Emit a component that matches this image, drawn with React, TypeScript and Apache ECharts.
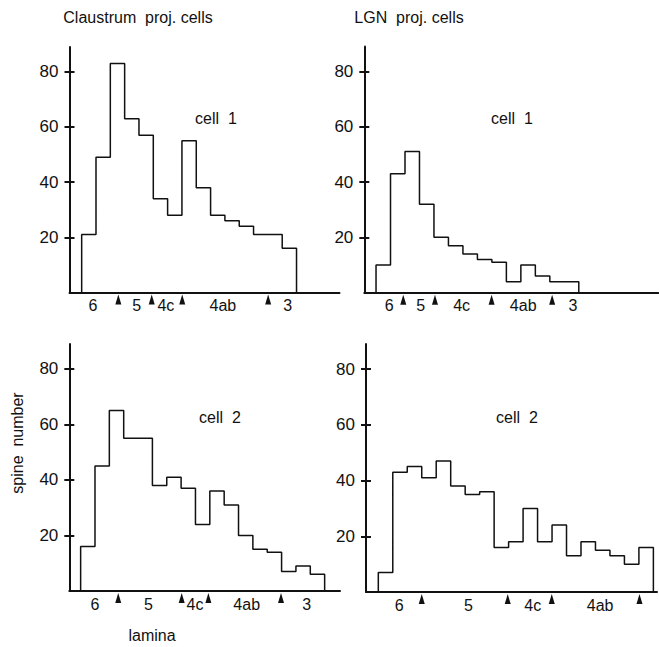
import React, { useEffect, useRef } from "react";
import * as echarts from "echarts";

// ---- data ----
const panelTitles = ["Claustrum  proj. cells", "LGN  proj. cells"];
const cellLabels = ["cell  1", "cell  1", "cell  2", "cell  2"];
const yAxisName = "spine  number";
const xAxisName = "lamina";
const yTicks = [20, 40, 60, 80];
const yMax = 89;

// spine counts per depth bin (bin width = 1 x-unit)
const claustrumCell1 = [21, 49, 83, 63, 57, 34, 28, 55, 38, 28, 26, 24, 21, 21, 16];
const lgnCell1 = [10, 43, 51, 32, 20, 17, 14, 12, 11, 4, 10, 6, 4, 4];
const claustrumCell2 = [16, 45, 65, 55, 55, 38, 41, 37, 24, 36, 31, 20, 15, 14, 7, 9, 6];
const lgnCell2 = [7, 43, 45, 41, 47, 38, 35, 36, 16, 18, 30, 18, 24, 13, 18, 15, 13, 10, 16];

// first bin's left edge and axis extent, in bin units
const binStarts = [0.85, 0.81, 0.79, 0.85];
const xMaxes = [18.85, 20.3, 18.86, 20.1];

// lamina names and their label positions
const laminaNames1 = ["6", "5", "4c", "4ab", "3"];
const laminaNames2 = ["6", "5", "4c", "4ab", "3"];
const laminaNames3 = ["6", "5", "4c", "4ab", "3"];
const laminaNames4 = ["6", "5", "4c", "4ab"];
const laminaPos1 = [1.64, 4.69, 6.73, 10.71, 15.23];
const laminaPos2 = [1.72, 3.89, 6.72, 10.97, 14.41];
const laminaPos3 = [1.79, 5.51, 8.76, 12.36, 16.54];
const laminaPos4 = [2.3, 7.07, 11.52, 16.17];

// lamina boundary arrows
const arrows1 = [3.41, 5.74, 7.87, 13.87];
const arrows2 = [2.69, 4.88, 8.79, 12.97];
const arrows3 = [3.41, 7.83, 9.69, 14.75];
const arrows4 = [3.85, 9.79, 12.83, 18.89];

const panelValues = [claustrumCell1, lgnCell1, claustrumCell2, lgnCell2];
const panelNames = [laminaNames1, laminaNames2, laminaNames3, laminaNames4];
const panelLabelPos = [laminaPos1, laminaPos2, laminaPos3, laminaPos4];
const panelArrows = [arrows1, arrows2, arrows3, arrows4];

// ---- layout ----
const grids = [
  { left: 69.5, top: 47, width: 270, height: 245.5 },
  { left: 364.3, top: 46.5, width: 294, height: 246.2 },
  { left: 69.3, top: 344, width: 270.7, height: 247 },
  { left: 366, top: 344, width: 291, height: 248 },
];

const INK = "#111111";
const FONT = "'Liberation Sans', Arial, Helvetica, sans-serif";

function stepPoints(start: number, vals: number[]): number[][] {
  const pts: number[][] = [[start, 0]];
  vals.forEach((v, i) => {
    pts.push([start + i, v]);
    pts.push([start + i + 1, v]);
  });
  pts.push([start + vals.length, 0]);
  return pts;
}

export default function App() {
  const ref = useRef<HTMLDivElement>(null);
  useEffect(() => {
    if (!ref.current) return;
    const chart = echarts.init(ref.current, undefined, { renderer: "svg" });

    const xAxis: any[] = [];
    const yAxis: any[] = [];
    const series: any[] = [];

    grids.forEach((g, i) => {
      xAxis.push({
        type: "value",
        gridIndex: i,
        min: 0,
        max: xMaxes[i],
        axisLine: { show: true, lineStyle: { color: INK, width: 2 } },
        axisTick: { show: false },
        axisLabel: { show: false },
        splitLine: { show: false },
      });
      yAxis.push({
        type: "value",
        gridIndex: i,
        position: "left",
        min: 0,
        max: yMax,
        axisLine: { show: true, onZero: false, lineStyle: { color: INK, width: 2 } },
        axisTick: {
          show: true,
          inside: false,
          length: 5,
          customValues: yTicks,
          lineStyle: { color: INK, width: 2 },
        },
        axisLabel: {
          show: true,
          customValues: yTicks,
          margin: 11,
          fontSize: 17,
          fontFamily: FONT,
          color: INK,
        },
        splitLine: { show: false },
      });
      yAxis.push({
        type: "value",
        gridIndex: i,
        position: "left",
        offset: 0,
        min: 0,
        max: yMax,
        axisLine: { show: false },
        axisTick: {
          show: true,
          inside: true,
          length: 5,
          customValues: yTicks,
          lineStyle: { color: INK, width: 2 },
        },
        axisLabel: { show: false },
        splitLine: { show: false },
      });

      series.push({
        type: "line",
        xAxisIndex: i,
        yAxisIndex: 2 * i,
        data: stepPoints(binStarts[i], panelValues[i]),
        symbol: "none",
        lineStyle: { color: INK, width: 1.5 },
        clip: false,
      });
      series.push({
        type: "scatter",
        xAxisIndex: i,
        yAxisIndex: 2 * i,
        data: panelArrows[i].map((x) => [x, 0]),
        symbol: "triangle",
        symbolSize: [6, 10],
        symbolOffset: [0, 7],
        itemStyle: { color: INK, opacity: 1 },
        clip: false,
        z: 5,
      });
      series.push({
        type: "scatter",
        xAxisIndex: i,
        yAxisIndex: 2 * i,
        data: panelNames[i].map((n, j) => ({ name: n, value: [panelLabelPos[i][j], 0] })),
        symbolSize: 0,
        itemStyle: { opacity: 1 },
        clip: false,
        label: {
          show: true,
          position: "bottom",
          distance: 5,
          formatter: "{b}",
          fontSize: 16,
          fontFamily: FONT,
          color: INK,
          textBorderWidth: 0,
          opacity: 1,
        },
      });
    });

    const cellPos = [
      [216, 118],
      [512, 118],
      [220, 417],
      [517, 417],
    ];

    const textStyle = { fontSize: 16, fontFamily: FONT, fill: INK, align: "center", verticalAlign: "middle" };

    const graphic: any[] = [
      { type: "text", x: 138, y: 17, style: { ...textStyle, text: panelTitles[0] } },
      { type: "text", x: 409, y: 17, style: { ...textStyle, text: panelTitles[1] } },
      ...cellLabels.map((t, i) => ({
        type: "text",
        x: cellPos[i][0],
        y: cellPos[i][1],
        style: { ...textStyle, text: t },
      })),
      { type: "text", x: 17, y: 443, rotation: Math.PI / 2, style: { ...textStyle, text: yAxisName } },
      { type: "text", x: 152, y: 635, style: { ...textStyle, text: xAxisName } },
    ];

    chart.setOption({
      animation: false,
      backgroundColor: "#ffffff",
      grid: grids.map((g) => ({ ...g, containLabel: false })),
      xAxis,
      yAxis,
      series,
      graphic,
    });
    return () => chart.dispose();
  }, []);

  return (
    <div
      ref={ref}
      style={{ position: "fixed", left: 0, top: 0, width: 659, height: 647, background: "#fff" }}
    />
  );
}
